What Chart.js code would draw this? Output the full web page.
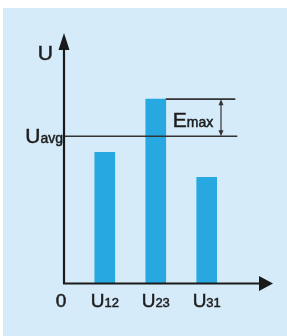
<!DOCTYPE html>
<html>
<head>
<meta charset="utf-8">
<script src="https://cdn.jsdelivr.net/npm/chart.js@4"></script>
<style>
html,body{margin:0;padding:0;background:#ffffff;}
#wrap{position:absolute;left:0;top:0;width:287px;height:336px;}
</style>
</head>
<body>
<div id="wrap"><canvas id="c" width="287" height="336"></canvas></div>
<script>
// ---- data ----
const categories = ['U12', 'U23', 'U31'];
const mainLabels = ['U', 'U', 'U'];
const subLabels = ['12', '23', '31'];
const voltages = [131, 184, 106];
const averageVoltage = [147];
const axisLabels = ['U', '0'];
const avgLabel = ['U', 'avg'];
const emaxLabel = ['E', 'max'];

const BAR = '#27a8e0';
const PANEL = '#d5ebf9';
const INK = '#1a1a1a';
const LINE = '#333333';
const TEXT = '#1e1e1e';
const FONT = '"Liberation Sans", Arial, sans-serif';

function txt(ctx, s, x, y) {
  ctx.fillText(s, x, y);
  ctx.strokeText(s, x, y);
}

function drawSub(ctx, main, sub, x, y, mSize, sSize, align) {
  ctx.font = mSize + 'px ' + FONT;
  const wm = ctx.measureText(main).width;
  ctx.font = sSize + 'px ' + FONT;
  const ws = ctx.measureText(sub).width;
  const w = wm + ws;
  let left = x;
  if (align === 'center') left = x - w / 2;
  else if (align === 'right') left = x - w;
  ctx.textAlign = 'left';
  ctx.textBaseline = 'alphabetic';
  ctx.font = mSize + 'px ' + FONT;
  txt(ctx, main, left, y);
  ctx.font = sSize + 'px ' + FONT;
  txt(ctx, sub, left + wm, y);
}

const panelPlugin = {
  id: 'panel',
  beforeDraw(chart) {
    const ctx = chart.ctx;
    ctx.save();
    ctx.fillStyle = '#ffffff';
    ctx.fillRect(0, 0, chart.width, chart.height);
    ctx.fillStyle = PANEL;
    ctx.fillRect(3, 8, chart.width - 3, chart.height - 8);
    ctx.restore();
  }
};

const decorPlugin = {
  id: 'decor',
  afterDatasetsDraw(chart) {
    const ctx = chart.ctx;
    const xs = chart.scales.x, ys = chart.scales.y;
    const a = chart.chartArea;
    const x0 = a.left, yb = a.bottom;
    ctx.save();
    // average line
    const yAvg = ys.getPixelForValue(averageVoltage[0]);
    const yMax = ys.getPixelForValue(Math.max(...voltages));
    const iMax = voltages.indexOf(Math.max(...voltages));
    const lineEnd = xs.getPixelForValue(3.6);
    const barRight = xs.getPixelForValue(iMax + 1) + 10;
    ctx.strokeStyle = LINE;
    ctx.lineWidth = 1.6;
    ctx.beginPath();
    ctx.moveTo(x0, yAvg); ctx.lineTo(lineEnd, yAvg);
    ctx.moveTo(barRight, yMax); ctx.lineTo(lineEnd - 2, yMax);
    ctx.stroke();
    // Emax double arrow
    const ax = xs.getPixelForValue(3.28);
    ctx.lineWidth = 1.2;
    ctx.beginPath();
    ctx.moveTo(ax, yMax + 3); ctx.lineTo(ax, yAvg - 3);
    ctx.stroke();
    ctx.fillStyle = LINE;
    ctx.beginPath();
    ctx.moveTo(ax, yMax); ctx.lineTo(ax - 2.5, yMax + 6); ctx.lineTo(ax + 2.5, yMax + 6); ctx.closePath();
    ctx.moveTo(ax, yAvg); ctx.lineTo(ax - 2.5, yAvg - 6); ctx.lineTo(ax + 2.5, yAvg - 6); ctx.closePath();
    ctx.fill();
    // axes
    ctx.strokeStyle = INK;
    ctx.fillStyle = INK;
    ctx.lineWidth = 2.2;
    ctx.beginPath();
    ctx.moveTo(x0, yb); ctx.lineTo(x0, a.top + 14);
    ctx.moveTo(x0 - 1, yb); ctx.lineTo(a.right - 12, yb);
    ctx.stroke();
    ctx.beginPath();
    ctx.moveTo(x0, a.top); ctx.lineTo(x0 - 5.5, a.top + 17); ctx.lineTo(x0 + 5.5, a.top + 17); ctx.closePath();
    ctx.moveTo(a.right, yb); ctx.lineTo(a.right - 14, yb - 7.5); ctx.lineTo(a.right - 14, yb + 7.5); ctx.closePath();
    ctx.fill();
    // texts
    ctx.fillStyle = TEXT;
    ctx.strokeStyle = TEXT;
    ctx.lineWidth = 0.5;
    ctx.textAlign = 'right';
    ctx.textBaseline = 'alphabetic';
    ctx.font = '21px ' + FONT;
    txt(ctx, axisLabels[0], x0 - 11, a.top + 27);
    drawSub(ctx, avgLabel[0], avgLabel[1], x0 - 1, yAvg + 7, 21, 14, 'right');
    drawSub(ctx, emaxLabel[0], emaxLabel[1], barRight + 7, yMax + 28, 21, 14, 'left');
    ctx.textAlign = 'center';
    ctx.font = '19px ' + FONT;
    txt(ctx, axisLabels[1], x0 - 3, yb + 23.5);
    for (let i = 0; i < categories.length; i++) {
      drawSub(ctx, mainLabels[i], subLabels[i], xs.getPixelForValue(i + 1), yb + 23.5, 19, 13, 'center');
    }
    ctx.restore();
  }
};

new Chart(document.getElementById('c'), {
  type: 'bar',
  data: {
    labels: categories,
    datasets: [{
      data: voltages.map((v, i) => ({ x: i + 1, y: v })),
      backgroundColor: BAR,
      borderWidth: 0,
      barThickness: 20
    }]
  },
  options: {
    responsive: false,
    animation: false,
    devicePixelRatio: 1,
    layout: { padding: { left: 64, right: 14, top: 33, bottom: 52.5 } },
    plugins: { legend: { display: false }, tooltip: { enabled: false } },
    scales: {
      x: { type: 'linear', min: 0.2, max: 4.3, display: false, offset: false },
      y: { min: 0, max: 250, display: false }
    }
  },
  plugins: [panelPlugin, decorPlugin]
});
</script>
</body>
</html>
